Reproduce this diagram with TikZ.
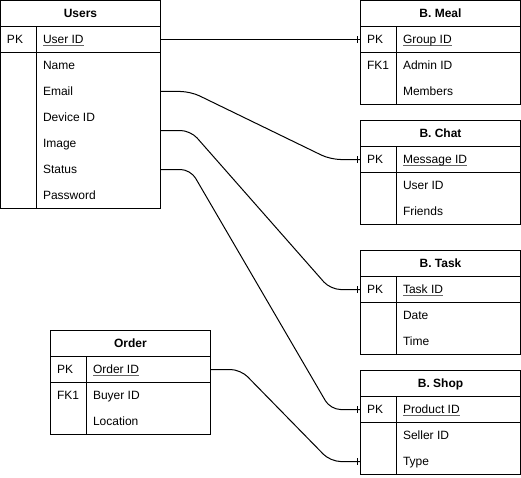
\documentclass[tikz,border=0pt]{standalone}
\usepackage{fontspec}
\setmainfont{Liberation Sans}
\usetikzlibrary{calc,decorations.markings}

\newcommand{\keyul}[1]{\setbox0\hbox{#1}\rlap{\color{black!60}\rule[-1.6pt]{\wd0}{0.6pt}}\box0}

\tikzset{
  entity/.style={draw, anchor=north west, minimum width=120pt, inner sep=0pt, outer sep=0pt},
  etext/.style={font=\fontsize{9}{11}\selectfont, inner sep=0pt, text height=6.5pt, text depth=-0.6pt},
  etitle/.style={etext, font=\fontsize{9}{11}\selectfont\bfseries},
  ekey/.style={etext, anchor=west},
  efield/.style={etext, anchor=west},
  link/.style={rounded corners=7.5pt, postaction={decorate},
    decoration={markings, mark=at position -2.25pt with {\draw[sharp corners] (0,-2.6pt) -- (0,2.6pt);}}},
}

\begin{document}
\begin{tikzpicture}[x=0.75pt,y=-0.75pt,line width=0.75pt]
  \useasboundingbox (0,0) rectangle (521,478);

  % Users
  \node[entity, minimum height=156pt] (users) at (0.5,0.5) {};
  \draw (users.north west) ++(0,26) -- ++(160,0) ++(-160,26) -- ++(160,0);
  \draw ($(users.north west)+(36,26)$) -- ($(users.south west)+(36,0)$);
  \node[etitle] (usersT) at ($(users.north)+(0,13)$) {Users};
  \node[ekey] (userspk) at ($(users.north west)+(6,39)$) {PK};
  \node[efield] (userid) at ($(users.north west)+(42,39)$) {\keyul{User ID}};
  \foreach \nm/\f [count=\i] in {uname/Name, email/Email, devid/Device ID,
      image/Image, status/Status, passwd/Password}
    \node[efield] (\nm) at ($(users.north west)+(42,39+26*\i)$) {\f};
  \coordinate (devport) at ($(devid)!0.5!(image)$);

  % B. Meal
  \node[entity, minimum height=78pt] (meal) at (360.5,0.5) {};
  \draw (meal.north west) ++(0,26) -- ++(160,0) ++(-160,26) -- ++(160,0);
  \draw ($(meal.north west)+(36,26)$) -- ($(meal.south west)+(36,0)$);
  \node[etitle] (mealT) at ($(meal.north)+(0,13)$) {B. Meal};
  \node[ekey] (mealpk) at ($(meal.north west)+(6,39)$) {PK};
  \node[efield] (gid) at ($(meal.north west)+(42,39)$) {\keyul{Group ID}};
  \foreach \nm/\k/\f [count=\i] in {adminid/FK1/Admin ID, members//Members}
  {
    \node[ekey] (\nm-k) at ($(meal.north west)+(6,39+26*\i)$) {\k};
    \node[efield] (\nm) at ($(meal.north west)+(42,39+26*\i)$) {\f};
  }

  % B. Chat
  \node[entity, minimum height=78pt] (chat) at (360.5,120.5) {};
  \draw (chat.north west) ++(0,26) -- ++(160,0) ++(-160,26) -- ++(160,0);
  \draw ($(chat.north west)+(36,26)$) -- ($(chat.south west)+(36,0)$);
  \node[etitle] (chatT) at ($(chat.north)+(0,13)$) {B. Chat};
  \node[ekey] (chatpk) at ($(chat.north west)+(6,39)$) {PK};
  \node[efield] (msgid) at ($(chat.north west)+(42,39)$) {\keyul{Message ID}};
  \foreach \nm/\f [count=\i] in {chatuid/User ID, friends/Friends}
    \node[efield] (\nm) at ($(chat.north west)+(42,39+26*\i)$) {\f};

  % B. Task
  \node[entity, minimum height=78pt] (task) at (360.5,250.5) {};
  \draw (task.north west) ++(0,26) -- ++(160,0) ++(-160,26) -- ++(160,0);
  \draw ($(task.north west)+(36,26)$) -- ($(task.south west)+(36,0)$);
  \node[etitle] (taskT) at ($(task.north)+(0,13)$) {B. Task};
  \node[ekey] (taskpk) at ($(task.north west)+(6,39)$) {PK};
  \node[efield] (taskid) at ($(task.north west)+(42,39)$) {\keyul{Task ID}};
  \foreach \nm/\f [count=\i] in {date/Date, time/Time}
    \node[efield] (\nm) at ($(task.north west)+(42,39+26*\i)$) {\f};

  % B. Shop
  \node[entity, minimum height=78pt] (shop) at (360.5,370.5) {};
  \draw (shop.north west) ++(0,26) -- ++(160,0) ++(-160,26) -- ++(160,0);
  \draw ($(shop.north west)+(36,26)$) -- ($(shop.south west)+(36,0)$);
  \node[etitle] (shopT) at ($(shop.north)+(0,13)$) {B. Shop};
  \node[ekey] (shoppk) at ($(shop.north west)+(6,39)$) {PK};
  \node[efield] (prodid) at ($(shop.north west)+(42,39)$) {\keyul{Product ID}};
  \foreach \nm/\f [count=\i] in {sellerid/Seller ID, type/Type}
    \node[efield] (\nm) at ($(shop.north west)+(42,39+26*\i)$) {\f};

  % Order
  \node[entity, minimum height=78pt] (order) at (50.5,330.5) {};
  \draw (order.north west) ++(0,26) -- ++(160,0) ++(-160,26) -- ++(160,0);
  \draw ($(order.north west)+(36,26)$) -- ($(order.south west)+(36,0)$);
  \node[etitle] (orderT) at ($(order.north)+(0,13)$) {Order};
  \node[ekey] (orderpk) at ($(order.north west)+(6,39)$) {PK};
  \node[efield] (oid) at ($(order.north west)+(42,39)$) {\keyul{Order ID}};
  \foreach \nm/\k/\f [count=\i] in {buyerid/FK1/Buyer ID, location//Location}
  {
    \node[ekey] (\nm-k) at ($(order.north west)+(6,39+26*\i)$) {\k};
    \node[efield] (\nm) at ($(order.north west)+(42,39+26*\i)$) {\f};
  }

  % links
  \draw[link] (users.east |- userid) -- (meal.west |- gid);
  \draw[link] (users.east |- email) -- ++(30,0)
    -- ([xshift=-22.5pt]chat.west |- msgid) -- (chat.west |- msgid);
  \draw[link] (users.east |- devport) -- ++(30,0)
    -- ([xshift=-22.5pt]task.west |- taskid) -- (task.west |- taskid);
  \draw[link] (users.east |- status) -- ++(30,0)
    -- ([xshift=-22.5pt]shop.west |- prodid) -- (shop.west |- prodid);
  \draw[link] (order.east |- oid) -- ++(30,0)
    -- ([xshift=-22.5pt]shop.west |- type) -- (shop.west |- type);
\end{tikzpicture}
\end{document}
